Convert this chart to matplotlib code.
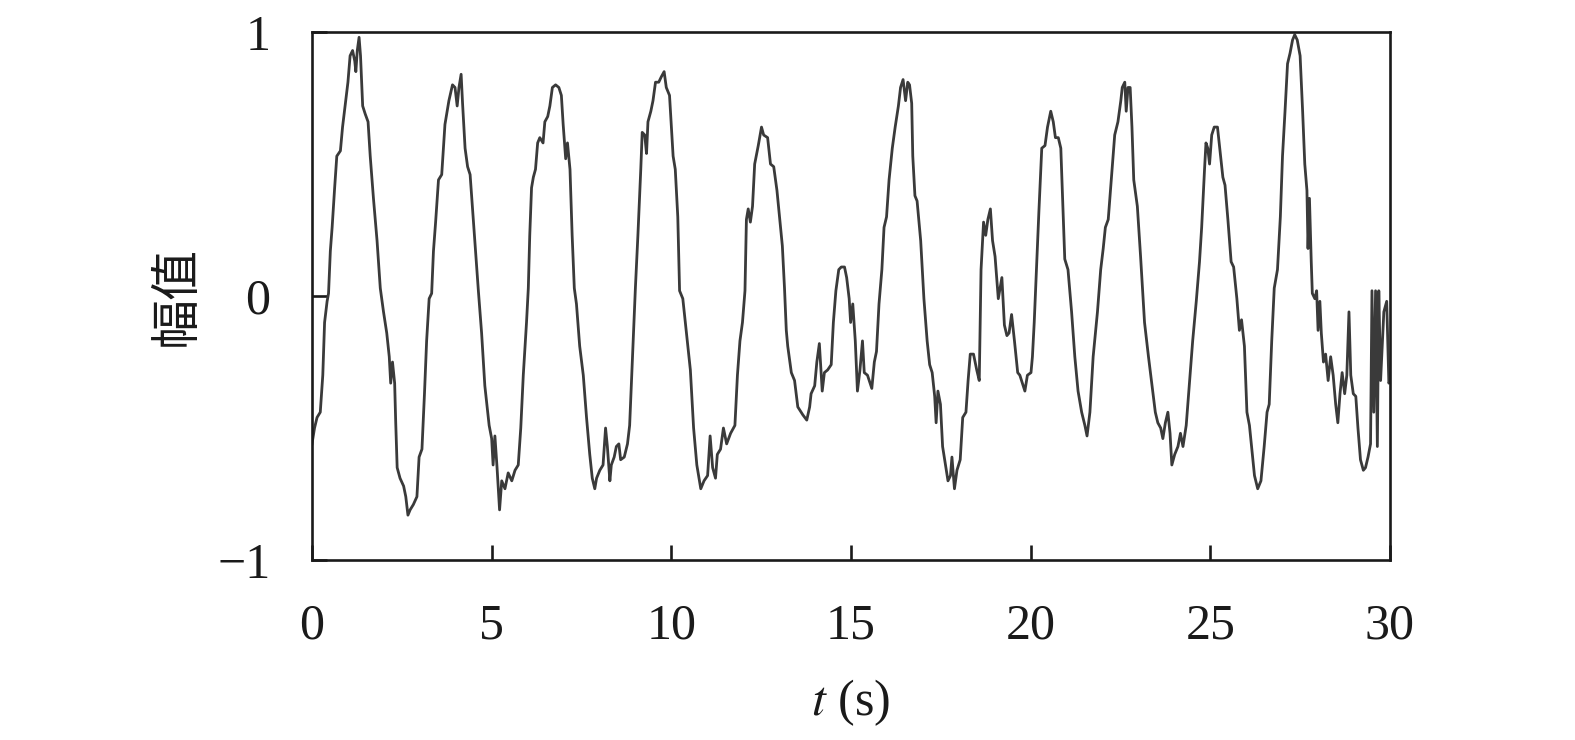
import matplotlib
matplotlib.use("Agg")
import matplotlib.pyplot as plt

# time (s) and amplitude
t = [0.00, 0.07, 0.14, 0.23, 0.30, 0.35, 0.42, 0.46, 0.51, 0.56, 0.63, 0.69, 0.79, 0.85,
     0.93, 1.00, 1.06, 1.13, 1.19, 1.22, 1.26, 1.31, 1.35, 1.41, 1.48, 1.56, 1.62, 1.71,
     1.81, 1.90, 1.99, 2.08, 2.15, 2.19, 2.24, 2.30, 2.33, 2.37, 2.45, 2.55, 2.61, 2.67,
     2.73, 2.82, 2.92, 2.98, 3.06, 3.13, 3.19, 3.26, 3.33, 3.38, 3.44, 3.52, 3.61, 3.70,
     3.81, 3.91, 3.98, 4.04, 4.09, 4.15, 4.19, 4.26, 4.33, 4.40, 4.52, 4.63, 4.72, 4.81,
     4.93, 5.00, 5.04, 5.09, 5.15, 5.22, 5.28, 5.37, 5.46, 5.56, 5.65, 5.74, 5.81, 5.88,
     5.97, 6.02, 6.06, 6.11, 6.16, 6.22, 6.28, 6.34, 6.43, 6.48, 6.56, 6.62, 6.69, 6.78,
     6.87, 6.94, 6.99, 7.06, 7.11, 7.18, 7.24, 7.30, 7.36, 7.45, 7.55, 7.64, 7.73, 7.80,
     7.87, 7.92, 8.01, 8.10, 8.17, 8.22, 8.29, 8.33, 8.41, 8.47, 8.54, 8.59, 8.69, 8.78,
     8.84, 8.94, 9.00, 9.07, 9.15, 9.19, 9.26, 9.31, 9.35, 9.43, 9.49, 9.56, 9.65, 9.72,
     9.80, 9.86, 9.95,
     10.05, 10.11, 10.18, 10.23, 10.32, 10.42, 10.53, 10.62, 10.71, 10.82, 10.91, 11.01,
     11.08, 11.15, 11.23, 11.28, 11.37, 11.45, 11.54, 11.65, 11.77, 11.84, 11.91, 11.98,
     12.05, 12.09, 12.14, 12.20, 12.26, 12.32, 12.42, 12.51, 12.57, 12.68, 12.76, 12.85,
     12.94, 13.04, 13.09, 13.15, 13.20, 13.24, 13.34, 13.43, 13.52, 13.66, 13.77, 13.85,
     13.89, 13.99, 14.05, 14.12, 14.20, 14.26, 14.35, 14.45, 14.51, 14.58, 14.66, 14.73,
     14.82, 14.88, 14.95, 14.99, 15.05, 15.12, 15.18, 15.25, 15.32, 15.37, 15.46, 15.58,
     15.65, 15.71, 15.78, 15.86, 15.92, 15.99, 16.06, 16.15, 16.23, 16.32, 16.38, 16.45,
     16.52, 16.58, 16.63, 16.69, 16.72, 16.78, 16.84, 16.94, 17.03, 17.12, 17.19, 17.26,
     17.33, 17.37, 17.42, 17.49, 17.55, 17.63, 17.70, 17.77, 17.81, 17.88, 17.95, 18.04,
     18.11, 18.20, 18.26, 18.32, 18.41, 18.50, 18.57, 18.62, 18.69, 18.75, 18.81, 18.88,
     18.94, 19.01, 19.10, 19.20, 19.27, 19.34, 19.40, 19.47, 19.55, 19.64, 19.70, 19.77,
     19.84, 19.91, 20.01,
     20.05, 20.10, 20.17, 20.23, 20.31, 20.40, 20.47, 20.56, 20.63, 20.69, 20.77, 20.84,
     20.91, 20.95, 21.04, 21.14, 21.23, 21.32, 21.42, 21.51, 21.57, 21.65, 21.74, 21.86,
     21.95, 22.02, 22.08, 22.16, 22.25, 22.34, 22.43, 22.51, 22.55, 22.62, 22.66, 22.71,
     22.77, 22.82, 22.87, 22.97, 23.06, 23.17, 23.28, 23.38, 23.47, 23.54, 23.62, 23.68,
     23.75, 23.82, 23.88, 23.93, 24.01, 24.10, 24.17, 24.24, 24.33, 24.42, 24.51, 24.61,
     24.70, 24.76, 24.84, 24.88, 24.93, 24.98, 25.04, 25.11, 25.20, 25.28, 25.35, 25.41,
     25.49, 25.58, 25.65, 25.74, 25.81, 25.87, 25.95, 26.02, 26.09, 26.15, 26.23, 26.32,
     26.41, 26.50, 26.58, 26.64, 26.71, 26.78, 26.87, 26.95, 27.01, 27.08, 27.15, 27.22,
     27.29, 27.35, 27.42, 27.50, 27.57, 27.63, 27.69, 27.72, 27.76, 27.81, 27.84, 27.91,
     27.96, 28.00, 28.05, 28.09, 28.15, 28.21, 28.28, 28.35, 28.42, 28.49, 28.55, 28.61,
     28.67, 28.74, 28.80, 28.86, 28.91, 28.98, 29.05, 29.11, 29.18, 29.26, 29.32, 29.39,
     29.46, 29.50, 29.55, 29.60, 29.65, 29.69, 29.74, 29.83, 29.91, 29.97, 30.00]

amp = [-0.56, -0.50, -0.46, -0.44, -0.30, -0.10, -0.02, 0.01, 0.17, 0.26, 0.41, 0.53, 0.55, 0.64,
       0.73, 0.81, 0.91, 0.93, 0.89, 0.85, 0.93, 0.98, 0.91, 0.72, 0.69, 0.66, 0.53, 0.37,
       0.21, 0.03, -0.06, -0.14, -0.23, -0.33, -0.25, -0.33, -0.48, -0.65, -0.69, -0.72, -0.76, -0.83,
       -0.81, -0.79, -0.76, -0.61, -0.58, -0.37, -0.17, -0.01, 0.01, 0.17, 0.28, 0.44, 0.46, 0.65,
       0.74, 0.80, 0.79, 0.72, 0.79, 0.84, 0.73, 0.56, 0.49, 0.46, 0.23, 0.02, -0.14, -0.34,
       -0.49, -0.54, -0.64, -0.53, -0.65, -0.81, -0.70, -0.73, -0.67, -0.70, -0.66, -0.64, -0.50, -0.30,
       -0.10, 0.03, 0.23, 0.41, 0.45, 0.48, 0.58, 0.60, 0.58, 0.66, 0.68, 0.72, 0.79, 0.80,
       0.79, 0.76, 0.65, 0.52, 0.58, 0.48, 0.23, 0.03, -0.03, -0.19, -0.30, -0.46, -0.60, -0.69,
       -0.73, -0.69, -0.66, -0.64, -0.50, -0.57, -0.70, -0.64, -0.61, -0.57, -0.56, -0.62, -0.61, -0.56,
       -0.49, -0.17, 0.03, 0.23, 0.48, 0.62, 0.61, 0.54, 0.66, 0.70, 0.74, 0.81, 0.81, 0.83,
       0.85, 0.79, 0.76,
       0.53, 0.48, 0.30, 0.02, -0.01, -0.14, -0.28, -0.50, -0.64, -0.73, -0.70, -0.68,
       -0.53, -0.65, -0.69, -0.60, -0.58, -0.50, -0.56, -0.52, -0.49, -0.30, -0.17, -0.10,
       0.02, 0.29, 0.33, 0.28, 0.34, 0.50, 0.57, 0.64, 0.61, 0.60, 0.50, 0.49,
       0.40, 0.26, 0.19, 0.03, -0.13, -0.19, -0.29, -0.32, -0.42, -0.45, -0.47, -0.42,
       -0.37, -0.34, -0.25, -0.18, -0.36, -0.29, -0.28, -0.26, -0.10, 0.02, 0.10, 0.11,
       0.11, 0.07, -0.01, -0.10, -0.03, -0.17, -0.36, -0.28, -0.17, -0.29, -0.30, -0.35,
       -0.25, -0.21, -0.03, 0.10, 0.26, 0.30, 0.44, 0.56, 0.64, 0.72, 0.79, 0.82,
       0.74, 0.81, 0.80, 0.73, 0.53, 0.38, 0.36, 0.21, -0.01, -0.17, -0.26, -0.29,
       -0.38, -0.48, -0.36, -0.41, -0.57, -0.64, -0.70, -0.68, -0.61, -0.73, -0.66, -0.62,
       -0.46, -0.44, -0.32, -0.22, -0.22, -0.28, -0.32, 0.10, 0.28, 0.23, 0.29, 0.33,
       0.21, 0.15, -0.01, 0.07, -0.11, -0.15, -0.14, -0.07, -0.17, -0.29, -0.30, -0.33,
       -0.36, -0.30, -0.29,
       -0.23, -0.10, 0.13, 0.32, 0.56, 0.57, 0.64, 0.70, 0.66, 0.60, 0.60, 0.56,
       0.30, 0.14, 0.10, -0.06, -0.23, -0.36, -0.44, -0.49, -0.53, -0.44, -0.23, -0.06,
       0.10, 0.18, 0.26, 0.29, 0.45, 0.61, 0.66, 0.74, 0.79, 0.81, 0.70, 0.79,
       0.79, 0.64, 0.44, 0.34, 0.15, -0.10, -0.23, -0.34, -0.44, -0.48, -0.50, -0.54,
       -0.48, -0.44, -0.52, -0.64, -0.60, -0.57, -0.52, -0.57, -0.49, -0.33, -0.17, -0.02,
       0.13, 0.26, 0.48, 0.58, 0.56, 0.50, 0.61, 0.64, 0.64, 0.54, 0.45, 0.42,
       0.29, 0.13, 0.11, -0.01, -0.13, -0.09, -0.19, -0.44, -0.49, -0.57, -0.68, -0.73,
       -0.70, -0.57, -0.44, -0.41, -0.17, 0.03, 0.10, 0.30, 0.53, 0.70, 0.88, 0.92,
       0.97, 0.99, 0.97, 0.91, 0.70, 0.50, 0.40, 0.18, 0.37, 0.13, 0.01, -0.01,
       0.02, -0.13, -0.02, -0.14, -0.25, -0.22, -0.32, -0.23, -0.30, -0.41, -0.48, -0.37,
       -0.29, -0.37, -0.30, -0.06, -0.30, -0.37, -0.38, -0.50, -0.62, -0.66, -0.65, -0.61,
       -0.56, 0.02, -0.44, 0.02, -0.57, 0.02, -0.32, -0.06, -0.02, -0.33, -0.32]

x_ticks = [0, 5, 10, 15, 20, 25, 30]
y_ticks = [-1, 0, 1]
y_tick_labels = ['\u22121', '0', '1']

plt.rcParams['font.family'] = ['Liberation Serif', 'Noto Sans CJK SC']
plt.rcParams['mathtext.fontset'] = 'stix'

fig = plt.figure(figsize=(15.75, 7.4), dpi=100)
ax = fig.add_axes([0.1981, 0.2432, 0.6844, 0.7135])

ax.plot(t, amp, color='#3a3a3a', lw=2.0)

ax.set_xlim(0, 30)
ax.set_ylim(-1, 1)
ax.set_xticks(x_ticks)
ax.set_yticks(y_ticks)
ax.set_yticklabels(y_tick_labels)

for sp in ax.spines.values():
    sp.set_linewidth(1.9)
    sp.set_color('#1a1a1a')
ax.tick_params(axis='x', direction='in', length=11, width=1.9, pad=31,
               labelsize=36, colors='#1a1a1a')
ax.tick_params(axis='y', direction='in', length=11, width=1.9, pad=30,
               labelsize=36, colors='#1a1a1a')

ax.set_xlabel(r'$t$ (s)', fontsize=36, labelpad=20, color='#1a1a1a')
ax.set_ylabel('幅值', fontsize=36, labelpad=10, color='#1a1a1a',
              family=['Noto Sans CJK SC', 'DejaVu Sans'])

fig.savefig('out.png', dpi=100)
